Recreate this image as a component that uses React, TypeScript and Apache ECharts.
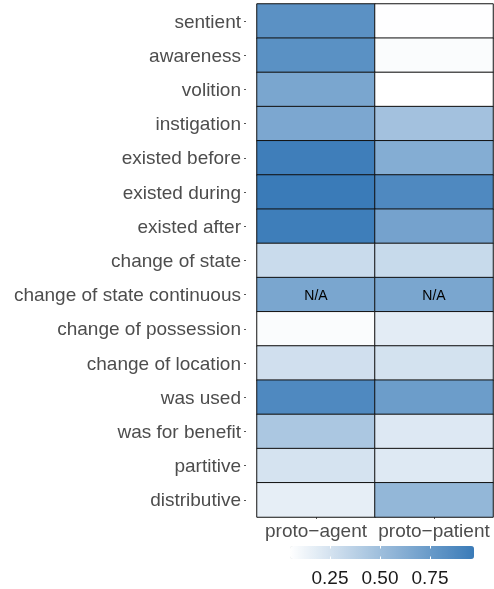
import React, { useEffect, useRef } from "react";
import * as echarts from "echarts";

const roles = ["proto\u2212agent", "proto\u2212patient"];
const properties = [
  "sentient",
  "awareness",
  "volition",
  "instigation",
  "existed before",
  "existed during",
  "existed after",
  "change of state",
  "change of state continuous",
  "change of possession",
  "change of location",
  "was used",
  "was for benefit",
  "partitive",
  "distributive",
];
const agentValues = [0.815, 0.82, 0.67, 0.66, 0.947, 0.97, 0.95, 0.3, 0.67, 0.073, 0.27, 0.87, 0.44, 0.246, 0.167];
const patientValues = [0.055, 0.073, 0.05, 0.48, 0.624, 0.87, 0.695, 0.31, 0.67, 0.18, 0.255, 0.736, 0.21, 0.204, 0.554];
const naProperties = ["change of state continuous"];
const scaleMin = 0.05;
const scaleMax = 0.97;
const legendTicks = [0.25, 0.5, 0.75];

const FONT = "'Liberation Sans', Arial, Helvetica, sans-serif";

export default function App() {
  const ref = useRef<HTMLDivElement>(null);
  useEffect(() => {
    if (!ref.current) return;
    const chart = echarts.init(ref.current, undefined, { renderer: "svg" });
    const data: any[] = [];
    properties.forEach((p, i) => {
      [agentValues[i], patientValues[i]].forEach((v, j) => {
        const item: any = { value: [j, i, v] };
        if (naProperties.includes(p)) {
          item.label = { show: true, formatter: "N/A" };
        }
        data.push(item);
      });
    });
    chart.setOption({
      animation: false,
      textStyle: { fontFamily: FONT },
      grid: [
        { left: 257, top: 4, width: 236, height: 513 },
        { left: 290, top: 546, width: 184, height: 13 },
      ],
      xAxis: [
        {
          gridIndex: 0,
          type: "category",
          data: roles,
          axisLine: { show: false },
          axisTick: { show: true, length: 2, lineStyle: { color: "#555" }, alignWithLabel: true, interval: 0 },
          axisLabel: {
            fontSize: 19,
            color: "#4D4D4D",
            margin: 4,
            fontFamily: FONT,
            interval: 0,
            hideOverlap: false,
          },
          splitLine: { show: false },
        },
        {
          gridIndex: 1,
          type: "value",
          min: scaleMin,
          max: scaleMax,
          position: "bottom",
          z: 20,
          axisLine: { show: false },
          splitLine: { show: false },
          axisTick: {
            show: true,
            inside: true,
            length: 2.5,
            customValues: legendTicks,
            lineStyle: { color: "#ffffff", width: 1 },
          },
          axisLabel: {
            customValues: legendTicks,
            formatter: (v: number) => v.toFixed(2),
            fontSize: 19,
            color: "#1A1A1A",
            margin: 9,
            fontFamily: FONT,
          },
        },
        {
          gridIndex: 1,
          type: "value",
          min: scaleMin,
          max: scaleMax,
          position: "top",
          z: 20,
          axisLine: { show: false },
          splitLine: { show: false },
          axisTick: {
            show: true,
            inside: true,
            length: 2.5,
            customValues: legendTicks,
            lineStyle: { color: "#ffffff", width: 1 },
          },
          axisLabel: { show: false },
        },
      ],
      yAxis: [
        {
          gridIndex: 0,
          type: "category",
          data: properties,
          inverse: true,
          offset: 11,
          axisLine: { show: false },
          axisTick: { show: true, length: 2, lineStyle: { color: "#555" }, alignWithLabel: true, interval: 0 },
          axisLabel: { fontSize: 19, color: "#4D4D4D", margin: 5, fontFamily: FONT, interval: 0 },
          splitLine: { show: false },
        },
        { gridIndex: 1, type: "value", show: false },
      ],
      visualMap: {
        type: "continuous",
        min: scaleMin,
        max: scaleMax,
        seriesIndex: 0,
        dimension: 2,
        orient: "horizontal",
        left: 290,
        top: 546,
        itemWidth: 13,
        itemHeight: 184,
        padding: 0,
        calculable: false,
        hoverLink: false,
        text: null,
        inRange: { color: ["#ffffff", "#3a7bb8"] },
      },
      series: [
        {
          type: "heatmap",
          xAxisIndex: 0,
          yAxisIndex: 0,
          data,
          label: { show: false, fontSize: 14, color: "#000", fontFamily: FONT },
          itemStyle: { borderColor: "#111", borderWidth: 1 },
          emphasis: { disabled: true },
        },
      ],
    });
    return () => chart.dispose();
  }, []);
  return <div ref={ref} style={{ position: "fixed", left: 0, top: 0, width: 494, height: 589 }} />;
}
